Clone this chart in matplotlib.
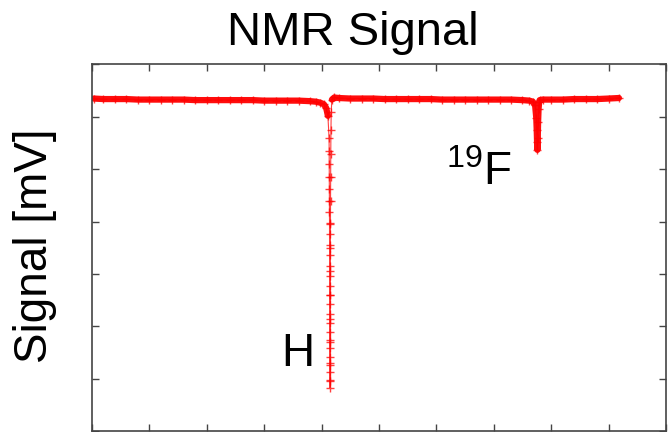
import numpy as np
import matplotlib
matplotlib.use('Agg')
import matplotlib.pyplot as plt

plt.rcParams['font.family'] = ['Liberation Sans', 'DejaVu Sans']
plt.rcParams['mathtext.fontset'] = 'custom'
plt.rcParams['mathtext.rm'] = 'Liberation Sans'
plt.rcParams['mathtext.default'] = 'rm'

# Sweep data (arbitrary x units, signal in tick units)
base1_x = [0.03, 0.2, 0.4, 0.6, 0.8, 1.0, 1.2, 1.4, 1.6, 1.8, 2.0, 2.2, 2.4,
           2.6, 2.8, 3.0, 3.2, 3.4, 3.6, 3.8, 3.9, 3.98, 4.04, 4.08, 4.11]
base1_y = [6.35, 6.34, 6.34, 6.34, 6.33, 6.33, 6.33, 6.33, 6.33, 6.32, 6.32,
           6.32, 6.32, 6.32, 6.32, 6.31, 6.31, 6.31, 6.31, 6.30, 6.29, 6.27,
           6.24, 6.17, 6.02]

h_down_x = [4.130, 4.132, 4.133, 4.134, 4.135, 4.136, 4.137, 4.138, 4.138,
            4.139, 4.139, 4.140, 4.140, 4.141, 4.141, 4.142, 4.142, 4.143,
            4.143, 4.143, 4.144, 4.144, 4.144, 4.145, 4.145, 4.145]
h_down_y = [5.60, 5.35, 5.10, 4.85, 4.62, 4.40, 4.18, 3.97, 3.76, 3.56, 3.36,
            3.16, 2.97, 2.78, 2.60, 2.42, 2.24, 2.07, 1.90, 1.74, 1.58, 1.42,
            1.27, 1.12, 0.97, 0.83]

h_up_x = [4.148, 4.149, 4.150, 4.151, 4.152, 4.153, 4.154, 4.155, 4.156,
          4.158, 4.160, 4.163, 4.168, 4.18, 4.22]
h_up_y = [0.95, 1.30, 1.70, 2.15, 2.60, 3.05, 3.50, 3.95, 4.40, 4.85, 5.30,
          5.75, 6.10, 6.33, 6.37]

base2_x = [4.3, 4.5, 4.7, 4.9, 5.1, 5.3, 5.5, 5.7, 5.9, 6.1, 6.3, 6.5, 6.7,
           6.9, 7.1, 7.3, 7.5, 7.62, 7.68, 7.72]
base2_y = [6.36, 6.35, 6.35, 6.35, 6.34, 6.34, 6.34, 6.34, 6.34, 6.33, 6.33,
           6.33, 6.33, 6.33, 6.33, 6.33, 6.32, 6.31, 6.29, 6.22]

f_dip_x = [7.74, 7.748, 7.754, 7.76, 7.766, 7.772, 7.78, 7.79, 7.80]
f_dip_y = [5.98, 5.75, 5.52, 5.37, 5.60, 5.90, 6.15, 6.28, 6.32]

base3_x = [7.85, 8.0, 8.2, 8.4, 8.6, 8.8, 9.0, 9.18]
base3_y = [6.33, 6.33, 6.33, 6.34, 6.34, 6.34, 6.35, 6.36]

sig_x = base1_x + h_down_x + h_up_x + base2_x + f_dip_x + base3_x
sig_y = base1_y + h_down_y + h_up_y + base2_y + f_dip_y + base3_y

fig = plt.figure(figsize=(6.69, 4.32), dpi=100)
ax = fig.add_axes([0.1375, 0.002, 0.858, 0.8487])

# thick noisy band where the trace sits on the baseline / small F dip
thick_right_x = h_up_x[-2:] + base2_x + f_dip_x + base3_x
thick_right_y = h_up_y[-2:] + base2_y + f_dip_y + base3_y
for xs, ys in [(base1_x, base1_y), (thick_right_x, thick_right_y)]:
    ax.plot(xs, ys, color='red', lw=4.5, alpha=0.95, solid_capstyle='round',
            solid_joinstyle='round')

# the full sweep as thin line with crosses
ax.plot(sig_x, sig_y, color='red', lw=0.8, marker='+', ms=6, mew=1.0,
        alpha=0.75)

ax.set_xlim(0, 10)
ax.set_ylim(0, 7)
ax.set_xticks(np.arange(0, 11, 1))
ax.set_yticks(np.arange(0, 8, 1))
ax.tick_params(direction='in', length=5, width=1, colors='#444444',
               top=True, right=True, labelbottom=False, labelleft=False)
for s in ax.spines.values():
    s.set_color('#444444')
    s.set_linewidth(1.2)

ax.text(3.59, 1.25, 'H', fontsize=33, ha='center', va='baseline')
ax.text(6.74, 4.70, '$^{19}$F', fontsize=33, ha='center', va='baseline')

fig.text(0.527, 0.924, 'NMR Signal', fontsize=34, ha='center', va='center')
fig.text(0.052, 0.43, 'Signal [mV]', fontsize=33, ha='center', va='center',
         rotation=90)

fig.savefig('out.png', dpi=100)
